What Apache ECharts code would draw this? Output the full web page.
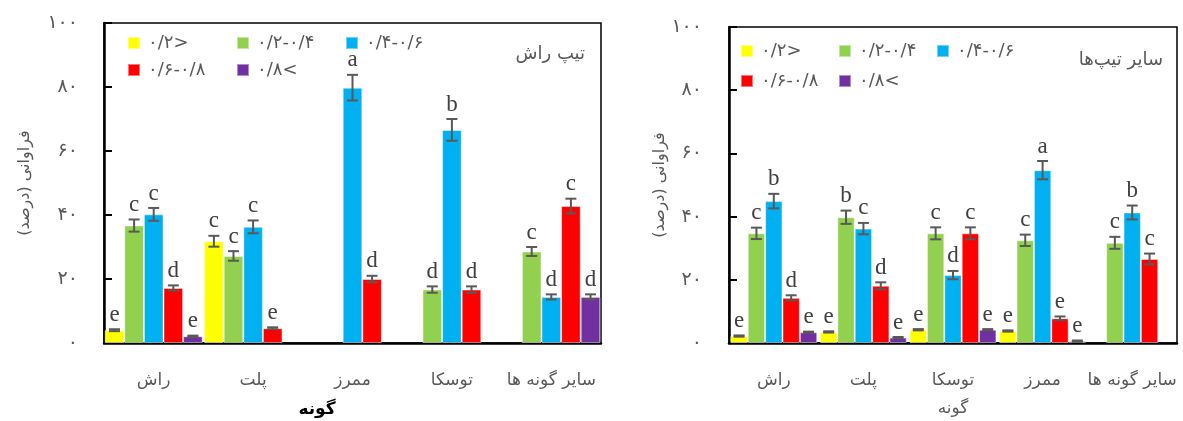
<!DOCTYPE html>
<html>
<head>
<meta charset="utf-8">
<script src="https://cdn.jsdelivr.net/npm/echarts@6/dist/echarts.min.js"></script>
<style>
  html, body { margin: 0; padding: 0; background: #fff; }
  #chart { width: 1183px; height: 421px; }
</style>
</head>
<body>
<div id="chart"></div>
<script>
// Diameter classes (legend labels)
const classNames = ['۰/۲>', '۰/۲-۰/۴', '۰/۴-۰/۶', '۰/۶-۰/۸', '۰/۸<'];
const classColors = ['#FFFF00', '#92D050', '#00B0F0', '#FF0000', '#7030A0'];

// Panel A: beech type
const catsA = ['راش', 'پلت', 'ممرز', 'توسکا', 'سایر گونه ها'];
const A_lt02   = [4.0, 31.8, null, null, null];
const A_02_04  = [36.7, 27.2, null, 16.7, 28.6];
const A_04_06  = [40.2, 36.3, 79.8, 66.6, 14.4];
const A_06_08  = [17.2, 4.6, 20.0, 16.7, 42.8];
const A_gt08   = [2.1, null, null, null, 14.4];
const A_lt02_err  = [0.3, 1.7, null, null, null];
const A_02_04_err = [1.9, 1.5, null, 1.0, 1.4];
const A_04_06_err = [2.0, 2.0, 4.0, 3.4, 0.8];
const A_06_08_err = [0.8, 0.3, 1.0, 1.0, 2.3];
const A_gt08_err  = [0.2, null, null, null, 0.8];
const A_lt02_sig  = ['e', 'c', '', '', ''];
const A_02_04_sig = ['c', 'c', '', 'd', 'c'];
const A_04_06_sig = ['c', 'c', 'a', 'b', 'd'];
const A_06_08_sig = ['d', 'e', 'd', 'd', 'c'];
const A_gt08_sig  = ['e', '', '', '', 'd'];

// Panel B: other types
const catsB = ['راش', 'پلت', 'توسکا', 'ممرز', 'سایر گونه ها'];
const B_lt02   = [2.2, 3.5, 4.2, 3.8, null];
const B_02_04  = [34.7, 39.8, 34.7, 32.5, 31.7];
const B_04_06  = [44.9, 36.2, 21.5, 54.7, 41.3];
const B_06_08  = [14.3, 18.1, 34.7, 7.8, 26.6];
const B_gt08   = [3.4, 1.7, 4.2, 0.6, null];
const B_lt02_err  = [0.2, 0.2, 0.2, 0.2, null];
const B_02_04_err = [1.8, 2.1, 1.9, 1.8, 1.9];
const B_04_06_err = [2.3, 1.8, 1.3, 2.9, 2.2];
const B_06_08_err = [0.8, 1.1, 1.9, 0.6, 1.7];
const B_gt08_err  = [0.2, 0.2, 0.2, 0.2, null];
const B_lt02_sig  = ['e', 'e', 'e', 'e', ''];
const B_02_04_sig = ['c', 'b', 'c', 'c', 'c'];
const B_04_06_sig = ['b', 'c', 'd', 'a', 'b'];
const B_06_08_sig = ['d', 'd', 'c', 'e', 'c'];
const B_gt08_sig  = ['e', 'e', 'e', 'e', ''];

// Y-axis ticks
const yMin = 0, yMax = 100, yStep = 20;

const panelA = {
  values: [A_lt02, A_02_04, A_04_06, A_06_08, A_gt08],
  errors: [A_lt02_err, A_02_04_err, A_04_06_err, A_06_08_err, A_gt08_err],
  sig: [A_lt02_sig, A_02_04_sig, A_04_06_sig, A_06_08_sig, A_gt08_sig],
  gap: 0.014
};
const panelB = {
  values: [B_lt02, B_02_04, B_04_06, B_06_08, B_gt08],
  errors: [B_lt02_err, B_02_04_err, B_04_06_err, B_06_08_err, B_gt08_err],
  sig: [B_lt02_sig, B_02_04_sig, B_04_06_sig, B_06_08_sig, B_gt08_sig],
  gap: 0.031
};

const faDigits = '۰۱۲۳۴۵۶۷۸۹';
const toFa = v => String(v).replace(/\d/g, d => faDigits[d]);
// keep the class labels in left-to-right order
const ltr = s => '\u200E' + s + '\u200E';

const faFont = '"DejaVu Sans", "Noto Sans", sans-serif';
const gray = '#595959';

function makeAxes(gridIndex, cats, labelMargin, nameGap) {
  const x = {
    type: 'category', gridIndex, data: cats,
    axisLine: { lineStyle: { color: '#000', width: 2.5 } },
    axisTick: { inside: true, length: 7, lineStyle: { color: '#000', width: 2 } },
    axisLabel: { interval: 0, margin: 29, fontSize: 17, color: gray, fontFamily: faFont }
  };
  const y = {
    type: 'value', gridIndex, min: yMin, max: yMax, interval: yStep,
    name: 'فراوانی (درصد)', nameLocation: 'middle', nameGap, nameRotate: 90,
    nameTextStyle: { fontSize: 16, color: gray, fontFamily: faFont },
    axisLine: { show: true, lineStyle: { color: '#000', width: 2.5 } },
    axisTick: { show: true, inside: true, length: 8, lineStyle: { color: '#000', width: 2 } },
    splitLine: { show: false },
    axisLabel: { margin: labelMargin, fontSize: 19, color: gray, fontFamily: faFont,
      formatter: v => toFa(v) }
  };
  return [x, y];
}

function makeSeries(panel, axisIndex) {
  const out = [];
  panel.values.forEach((vals, i) => {
    out.push({
      type: 'bar', name: classNames[i], xAxisIndex: axisIndex, yAxisIndex: axisIndex,
      data: vals, barGap: '0%', barCategoryGap: (panel.gap * 100) + '%',
      itemStyle: { color: classColors[i], borderColor: 'rgba(255,255,255,0.45)', borderWidth: 1 },
      emphasis: { disabled: true }, silent: true
    });
  });
  // error bars with significance letters
  const errData = [];
  panel.values.forEach((vals, i) => {
    vals.forEach((v, c) => {
      if (v != null) errData.push([c, v, panel.errors[i][c] || 0, i, panel.sig[i][c] || '']);
    });
  });
  const gap = panel.gap;
  out.push({
    type: 'custom', xAxisIndex: axisIndex, yAxisIndex: axisIndex, silent: true, z: 5,
    data: errData,
    renderItem: (params, api) => {
      const c = api.value(0), v = api.value(1), e = api.value(2), s = api.value(3);
      const sig = errData[params.dataIndex][4];
      const catW = api.size([1, 0])[0];
      const bw = catW * (1 - gap) / 5;
      const center = api.coord([c, v]);
      const x = center[0] + (s - 2) * bw;
      const yTop = api.coord([c, v + e])[1];
      const yBot = api.coord([c, Math.max(v - e, 0)])[1];
      const cap = 5.5;
      const ls = { stroke: '#595959', lineWidth: 2 };
      return {
        type: 'group',
        children: [
          { type: 'line', shape: { x1: x, y1: yTop, x2: x, y2: yBot }, style: ls },
          { type: 'line', shape: { x1: x - cap, y1: yTop, x2: x + cap, y2: yTop }, style: ls },
          { type: 'line', shape: { x1: x - cap, y1: yBot, x2: x + cap, y2: yBot }, style: ls },
          { type: 'text', style: { text: sig, x: x, y: yTop - 3, textAlign: 'center',
              textVerticalAlign: 'bottom', font: '23px "Liberation Serif", serif', fill: '#404040' } }
        ]
      };
    }
  });
  return out;
}

// one legend per class, laid out as a 3 + 2 grid
function makeLegends(left, rowCenter, colStep, rowStep) {
  return classNames.map((name, i) => {
    const col = i < 3 ? i : i - 3;
    const row = i < 3 ? 0 : 1;
    return {
      left: left + col * colStep, top: rowCenter + row * rowStep - 9,
      padding: 0, itemWidth: 12, itemHeight: 12, icon: 'rect', selectedMode: false,
      data: [name], formatter: n => ltr(n),
      textStyle: { fontSize: 18, lineHeight: 18, color: gray, fontFamily: faFont, padding: [0, 0, 0, 3] }
    };
  });
}

const [xA, yA] = makeAxes(0, catsA, 26, 71);
const [xB, yB] = makeAxes(1, catsB, 27, 61);

const option = {
  animation: false,
  grid: [
    { left: 104, top: 23, width: 497, height: 320, show: true, borderColor: '#000', borderWidth: 1.5 },
    { left: 729, top: 27, width: 448, height: 316, show: true, borderColor: '#000', borderWidth: 1.5 }
  ],
  xAxis: [xA, xB],
  yAxis: [yA, yB],
  legend: [
    ...makeLegends(127, 43, 109, 27),
    ...makeLegends(740, 51, 98, 30)
  ],
  graphic: [
    { type: 'text', right: 1183 - 585, top: 45, style: { text: 'تیپ راش', fontSize: 18, fill: gray, fontFamily: faFont } },
    { type: 'text', right: 1183 - 1163, top: 51, style: { text: 'سایر تیپ‌ها', fontSize: 18, fill: gray, fontFamily: faFont } },
    { type: 'text', x: 317, y: 410, style: { text: 'گونه', fontSize: 17, fontWeight: 'bold', fill: '#000', fontFamily: faFont, textAlign: 'center', textVerticalAlign: 'middle' } },
    { type: 'text', x: 953, y: 409, style: { text: 'گونه', fontSize: 17, fill: gray, fontFamily: faFont, textAlign: 'center', textVerticalAlign: 'middle' } }
  ],
  series: [...makeSeries(panelA, 0), ...makeSeries(panelB, 1)]
};

const chart = echarts.init(document.getElementById('chart'), null, { renderer: 'canvas' });
chart.setOption(option);
</script>
</body>
</html>
